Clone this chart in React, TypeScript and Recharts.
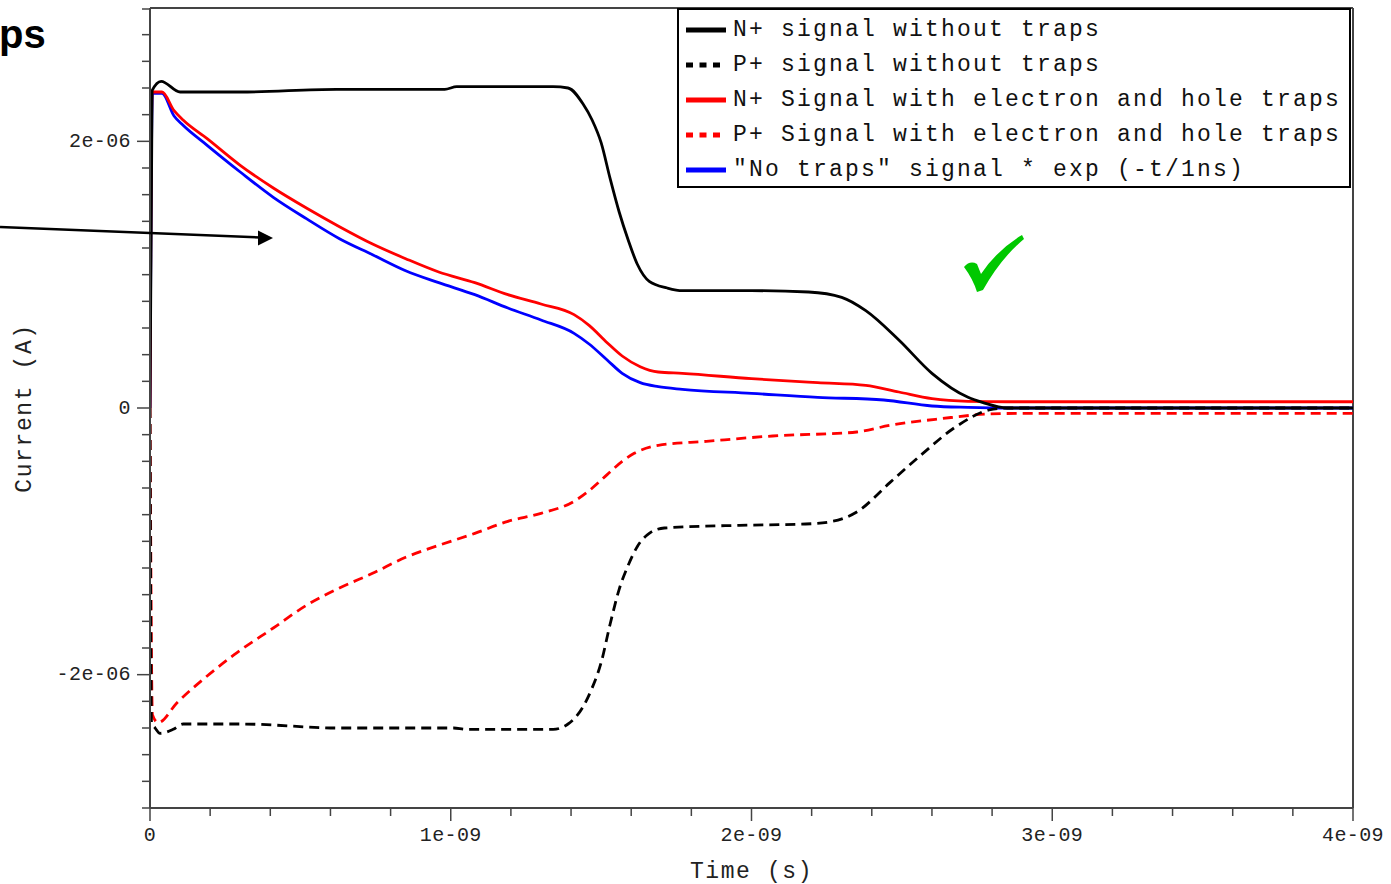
import { LineChart, Line, XAxis, YAxis, ReferenceLine, Legend } from 'recharts'

// time in ns, current in µA (ticks are printed in seconds / amperes)
const N_NO_TRAPS_T = [0, 0.007, 0.037, 0.1, 0.3, 0.62, 0.98, 1.02, 1.34, 1.39, 1.44, 1.47, 1.5, 1.53, 1.56, 1.59, 1.62, 1.66, 1.72, 1.77, 2.0, 2.19, 2.3, 2.38, 2.49, 2.6, 2.72, 2.77, 2.85, 4.0]
const N_NO_TRAPS_I = [0, 2.38, 2.45, 2.37, 2.37, 2.39, 2.39, 2.41, 2.41, 2.4, 2.28, 2.16, 1.99, 1.72, 1.47, 1.26, 1.08, 0.95, 0.9, 0.88, 0.88, 0.87, 0.83, 0.73, 0.51, 0.26, 0.08, 0.04, 0, 0]

const P_NO_TRAPS_T = [0, 0.005, 0.017, 0.033, 0.077, 0.11, 0.3, 0.63, 1.01, 1.05, 1.34, 1.39, 1.44, 1.47, 1.5, 1.53, 1.56, 1.59, 1.62, 1.66, 1.71, 1.96, 2.18, 2.27, 2.35, 2.46, 2.57, 2.68, 2.79, 2.85, 4.0]
const P_NO_TRAPS_I = [0, -2.36, -2.4, -2.44, -2.41, -2.37, -2.37, -2.4, -2.4, -2.41, -2.41, -2.37, -2.24, -2.1, -1.91, -1.62, -1.36, -1.18, -1.04, -0.94, -0.9, -0.88, -0.87, -0.85, -0.78, -0.56, -0.34, -0.14, -0.015, 0, 0]

const N_TRAPS_T = [0, 0.007, 0.04, 0.08, 0.11, 0.19, 0.3, 0.41, 0.52, 0.63, 0.74, 0.85, 0.96, 1.08, 1.19, 1.3, 1.41, 1.46, 1.52, 1.57, 1.63, 1.69, 1.77, 2.0, 2.22, 2.38, 2.49, 2.6, 2.72, 2.85, 4.0]
const N_TRAPS_I = [0, 2.37, 2.37, 2.23, 2.16, 2.02, 1.82, 1.65, 1.5, 1.36, 1.23, 1.12, 1.02, 0.94, 0.85, 0.78, 0.7, 0.62, 0.49, 0.39, 0.31, 0.27, 0.26, 0.22, 0.19, 0.17, 0.12, 0.07, 0.05, 0.047, 0.047]

const P_TRAPS_T = [0, 0.008, 0.027, 0.09, 0.19, 0.28, 0.41, 0.52, 0.63, 0.74, 0.85, 0.96, 1.08, 1.19, 1.3, 1.41, 1.46, 1.52, 1.57, 1.61, 1.69, 1.85, 2.07, 2.35, 2.46, 2.63, 2.79, 2.9, 4.0]
const P_TRAPS_I = [0, -2.3, -2.36, -2.21, -2.01, -1.85, -1.65, -1.48, -1.35, -1.24, -1.12, -1.03, -0.94, -0.85, -0.79, -0.7, -0.62, -0.5, -0.4, -0.34, -0.28, -0.25, -0.21, -0.18, -0.13, -0.08, -0.045, -0.04, -0.04]

const EXP_T = [0, 0.008, 0.04, 0.08, 0.11, 0.19, 0.3, 0.41, 0.52, 0.63, 0.74, 0.85, 0.96, 1.08, 1.19, 1.3, 1.41, 1.46, 1.52, 1.57, 1.63, 1.69, 1.77, 2.0, 2.22, 2.44, 2.6, 2.72, 2.85, 4.0]
const EXP_I = [0, 2.36, 2.36, 2.19, 2.12, 1.97, 1.77, 1.58, 1.42, 1.27, 1.15, 1.03, 0.94, 0.85, 0.75, 0.66, 0.56, 0.48, 0.36, 0.26, 0.19, 0.16, 0.14, 0.11, 0.08, 0.06, 0.015, 0.005, 0, 0]

const X_TICKS = [0, 0.2, 0.4, 0.6, 0.8, 1, 1.2, 1.4, 1.6, 1.8, 2, 2.2, 2.4, 2.6, 2.8, 3, 3.2, 3.4, 3.6, 3.8, 4]
const X_LABELS: Record<number, string> = { 0: '0', 1: '1e-09', 2: '2e-09', 3: '3e-09', 4: '4e-09' }
const Y_TICKS = [-3, -2.8, -2.6, -2.4, -2.2, -2, -1.8, -1.6, -1.4, -1.2, -1, -0.8, -0.6, -0.4, -0.2, 0,
  0.2, 0.4, 0.6, 0.8, 1, 1.2, 1.4, 1.6, 1.8, 2, 2.2, 2.4, 2.6, 2.8, 3]
const Y_LABELS: Record<number, string> = { [-2]: '-2e-06', 0: '0', 2: '2e-06' }

const toPoints = (t: number[], i: number[]) => t.map((v, k) => ({ t: v, i: i[k] }))

const SERIES = [
  { key: 'exp', name: '"No traps" signal * exp (-t/1ns)', color: '#0000ff', dash: undefined, data: toPoints(EXP_T, EXP_I) },
  { key: 'pTraps', name: 'P+ Signal with electron and hole traps', color: '#ff0000', dash: '10 6', data: toPoints(P_TRAPS_T, P_TRAPS_I) },
  { key: 'nTraps', name: 'N+ Signal with electron and hole traps', color: '#ff0000', dash: undefined, data: toPoints(N_TRAPS_T, N_TRAPS_I) },
  { key: 'pNo', name: 'P+ signal without traps', color: '#000000', dash: '10 6', data: toPoints(P_NO_TRAPS_T, P_NO_TRAPS_I) },
  { key: 'nNo', name: 'N+ signal without traps', color: '#000000', dash: undefined, data: toPoints(N_NO_TRAPS_T, N_NO_TRAPS_I) },
]
const LEGEND_ORDER = ['nNo', 'pNo', 'nTraps', 'pTraps', 'exp']

const MONO = '"Liberation Mono", "DejaVu Sans Mono", monospace'
const AXIS = '#444'

const near = (v: number, m: Record<number, string>) => {
  const k = Object.keys(m).map(Number).find(n => Math.abs(n - v) < 1e-6)
  return k === undefined ? null : m[k]
}

function XTick({ x, y, payload }: any) {
  const lab = near(payload.value, X_LABELS)
  return (
    <g>
      <line x1={x} x2={x} y1={y} y2={y + (lab !== null ? 13 : 8)} stroke={AXIS} strokeWidth={1.5} />
      {lab !== null && (
        <text x={x} y={y + 27} textAnchor="middle" dominantBaseline="central" fontFamily={MONO} fontSize={20} letterSpacing={0.4} fill="#222">{lab}</text>
      )}
    </g>
  )
}

function YTick({ x, y, payload }: any) {
  const lab = near(payload.value, Y_LABELS)
  return (
    <g>
      <line x1={x} x2={x - (lab !== null ? 13 : 8)} y1={y} y2={y} stroke={AXIS} strokeWidth={1.5} />
      {lab !== null && (
        <text x={x - 19} y={y} textAnchor="end" dominantBaseline="central" fontFamily={MONO} fontSize={20} letterSpacing={0.4} fill="#222">{lab}</text>
      )}
    </g>
  )
}

function LegendBox() {
  return (
    <div style={{ width: 674, height: 180, border: '2px solid #000', boxSizing: 'border-box', background: '#fff' }}>
      <svg width={670} height={176}>
        {LEGEND_ORDER.map((k, r) => {
          const s = SERIES.find(d => d.key === k)!
          const cy = 20 + r * 35
          return (
            <g key={k}>
              <line x1={7} x2={47} y1={cy} y2={cy} stroke={s.color} strokeWidth={5} strokeDasharray={s.dash ? '7 6.5' : undefined} />
              <text x={54} y={cy} dominantBaseline="central" fontFamily={MONO} fontSize={23} letterSpacing={2.2} fill="#111">{s.name}</text>
            </g>
          )
        })}
      </svg>
    </div>
  )
}

export default function App() {
  return (
    <div style={{ position: 'fixed', left: 0, top: 0, width: 1391, height: 884, background: '#fff' }}>
      <LineChart width={1391} height={884} margin={{ top: 8, right: 38, bottom: 0, left: 0 }}>
        <XAxis
          dataKey="t" type="number" domain={[0, 4]} ticks={X_TICKS} height={76}
          tickSize={0} tickMargin={0} tickLine={false} tick={<XTick />}
          axisLine={{ stroke: AXIS, strokeWidth: 2 }} allowDataOverflow
          label={{
            value: 'Time (s)',
            content: (p: any) => (
              <text x={p.viewBox.x + p.viewBox.width / 2} y={p.viewBox.y + 64} textAnchor="middle" dominantBaseline="central"
                fontFamily={MONO} fontSize={23} letterSpacing={1.6} fill="#222">Time (s)</text>
            ),
          }}
        />
        <YAxis
          type="number" domain={[-3, 3]} ticks={Y_TICKS} width={150}
          tickSize={0} tickMargin={0} tickLine={false} tick={<YTick />}
          axisLine={{ stroke: AXIS, strokeWidth: 2 }} allowDataOverflow
          label={{
            value: 'Current (A)',
            content: (p: any) => {
              const cy = p.viewBox.y + p.viewBox.height / 2
              return (
                <text x={25} y={cy} transform={`rotate(-90 25 ${cy})`} textAnchor="middle" dominantBaseline="central"
                  fontFamily={MONO} fontSize={23} letterSpacing={1.6} fill="#222">Current (A)</text>
              )
            },
          }}
        />
        <ReferenceLine y={3} stroke={AXIS} strokeWidth={2} />
        <ReferenceLine x={4} stroke={AXIS} strokeWidth={2} />
        {SERIES.map(s => (
          <Line key={s.key} data={s.data} dataKey="i" name={s.name} type="monotone" stroke={s.color}
            strokeWidth={2.8} strokeDasharray={s.dash} dot={false} activeDot={false} isAnimationActive={false} />
        ))}
        <Legend layout="vertical" align="center" verticalAlign="middle" content={() => <LegendBox />}
          wrapperStyle={{ position: 'absolute', left: 677, top: 8, width: 674, height: 180 }} />
      </LineChart>
      <svg width={1391} height={884} style={{ position: 'absolute', left: 0, top: 0, pointerEvents: 'none' }}>
        <text x={-1} y={48} fontFamily='"Liberation Sans", Arial, sans-serif' fontWeight="bold" fontSize={40} fill="#000">ps</text>
        <line x1={0} y1={227} x2={260} y2={237.5} stroke="#000" strokeWidth={2.5} />
        <polygon points="273,238 258,230.5 258,245.5" fill="#000" />
        <path d="M964 267 Q970 260 977 264 L981 274 Q997 250 1022 235 L1024 239 Q1001 258 983 290 L977 292 Q973 279 964 267 Z" fill="#00c800" />
      </svg>
    </div>
  )
}
